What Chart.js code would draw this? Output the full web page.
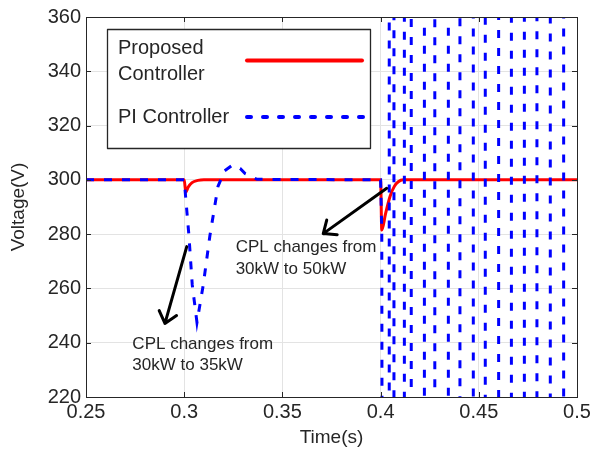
<!DOCTYPE html>
<html>
<head>
<meta charset="utf-8">
<script src="https://cdn.jsdelivr.net/npm/chart.js@4"></script>
<style>
  html, body { margin: 0; padding: 0; background: #fff; }
  #wrap { width: 596px; height: 454px; }
</style>
</head>
<body>
<div id="wrap"><canvas id="graph1" width="596" height="454"></canvas></div>
<script>
// proposed controller (red)
const timeProposed = [0.25, 0.3, 0.3008, 0.302, 0.304, 0.307, 0.31, 0.4, 0.4006, 0.4025, 0.4048, 0.407, 0.409, 0.4116, 0.5]
const voltProposed = [300, 300, 295.5, 297.3, 299, 299.8, 300, 300, 281.5, 287.5, 293.9, 297.6, 299.3, 300, 300]

// PI controller (blue), goes unstable after 0.4 s
const timePI = [0.25, 0.3, 0.3024, 0.3041, 0.3065, 0.3097, 0.3131, 0.3172, 0.3205, 0.3247, 0.3285, 0.331, 0.3371, 0.4,
  0.4006, 0.4009,
  0.4044, 0.4044, 0.4068, 0.4068, 0.4121, 0.4121, 0.4156, 0.4156,
  0.4223, 0.4223, 0.4276, 0.4276, 0.4345, 0.4345, 0.4404, 0.4404,
  0.4472, 0.4472, 0.4533, 0.4533, 0.4601, 0.4601, 0.4666, 0.4666,
  0.4732, 0.4732, 0.4796, 0.4796, 0.4864, 0.4864, 0.4932, 0.4932, 0.5]
const voltPI = [300, 300, 279.5, 261.3, 247.5, 261.3, 279.5, 297.6, 303.3, 305.5, 304.2, 302.3, 300.2, 300,
  281.5, 100,
  100, 520, 520, 100, 100, 520, 520, 100,
  100, 520, 520, 100, 100, 520, 520, 100,
  100, 520, 520, 100, 100, 520, 520, 100,
  100, 520, 520, 100, 100, 520, 520, 100, 100]

const seriesNames = ['Proposed\nController', 'PI Controller']
const noteTexts = [['CPL changes from', '30kW to 35kW'], ['CPL changes from', '30kW to 50kW']]

const txtColor = '#262626'
const fontFam = '"Liberation Sans", Arial, Helvetica, sans-serif'

// arrows and notes, placed in data units
const notes = [
  { text: noteTexts[0], x: 0.2736, y: 237.7, from: [0.3013, 275.4], to: [0.2902, 247.1] },
  { text: noteTexts[1], x: 0.3262, y: 273.3, from: [0.4031, 296.9], to: [0.3708, 280.2] }
]

const decorPlugin = {
  id: 'decor',
  afterDraw(chart) {
    const ctx = chart.ctx
    const a = chart.chartArea
    const xs = chart.scales.x, ys = chart.scales.y
    ctx.save()

    // inward ticks
    ctx.strokeStyle = txtColor
    ctx.lineWidth = 1
    ctx.beginPath()
    xs.ticks.forEach(t => {
      const px = Math.round(xs.getPixelForValue(t.value)) + 0.5
      ctx.moveTo(px, a.bottom); ctx.lineTo(px, a.bottom - 5)
      ctx.moveTo(px, a.top); ctx.lineTo(px, a.top + 5)
    })
    ys.ticks.forEach(t => {
      const py = Math.round(ys.getPixelForValue(t.value)) + 0.5
      ctx.moveTo(a.left, py); ctx.lineTo(a.left + 5, py)
      ctx.moveTo(a.right, py); ctx.lineTo(a.right - 5, py)
    })
    ctx.stroke()

    // axes box
    ctx.strokeRect(Math.round(a.left) + 0.5, Math.round(a.top) + 0.5, Math.round(a.right - a.left), Math.round(a.bottom - a.top))

    // notes + arrows
    ctx.fillStyle = txtColor
    ctx.font = '17px ' + fontFam
    ctx.textBaseline = 'alphabetic'
    ctx.textAlign = 'left'
    notes.forEach(n => {
      const tx = xs.getPixelForValue(n.x), ty = ys.getPixelForValue(n.y)
      n.text.forEach((line, i) => ctx.fillText(line, tx, ty + i * 21.5))

      const x0 = xs.getPixelForValue(n.from[0]), y0 = ys.getPixelForValue(n.from[1])
      const x1 = xs.getPixelForValue(n.to[0]), y1 = ys.getPixelForValue(n.to[1])
      const ang = Math.atan2(y1 - y0, x1 - x0)
      const hl = 14, ha = 0.7
      ctx.strokeStyle = '#000'
      ctx.lineWidth = 3
      ctx.lineCap = 'round'
      ctx.lineJoin = 'round'
      ctx.beginPath()
      ctx.moveTo(x0, y0); ctx.lineTo(x1, y1)
      ctx.moveTo(x1 - hl * Math.cos(ang - ha), y1 - hl * Math.sin(ang - ha))
      ctx.lineTo(x1, y1)
      ctx.lineTo(x1 - hl * Math.cos(ang + ha), y1 - hl * Math.sin(ang + ha))
      ctx.stroke()
    })

    // legend box
    const lx = a.left + 21, ly = a.top + 12, lw = 263, lh = 119
    ctx.fillStyle = '#fff'
    ctx.fillRect(lx, ly, lw, lh)
    ctx.strokeStyle = txtColor
    ctx.lineWidth = 1.3
    ctx.lineCap = 'butt'
    ctx.strokeRect(Math.round(lx) + 0.5, Math.round(ly) + 0.5, lw, lh)

    ctx.fillStyle = txtColor
    ctx.font = '20px ' + fontFam
    const lines0 = seriesNames[0].split('\n')
    ctx.fillText(lines0[0], lx + 11, ly + 25)
    ctx.fillText(lines0[1], lx + 11, ly + 50.5)
    ctx.fillText(seriesNames[1], lx + 11, ly + 94)

    ctx.lineWidth = 4
    ctx.strokeStyle = '#ff0000'
    ctx.lineCap = 'round'
    ctx.beginPath()
    ctx.moveTo(lx + 140, ly + 31.5); ctx.lineTo(lx + 255, ly + 31.5)
    ctx.stroke()

    ctx.strokeStyle = '#0000ff'
    ctx.setLineDash([4, 12])
    ctx.beginPath()
    ctx.moveTo(lx + 140, ly + 88); ctx.lineTo(lx + 258, ly + 88)
    ctx.stroke()
    ctx.restore()
  }
}

const chart = new Chart(
  document.getElementById('graph1'),
  {
    type: 'line',
    data: {
      datasets: [
        {
          label: 'PI Controller',
          data: timePI.map((t, i) => ({ x: t, y: voltPI[i] })),
          borderColor: '#0000ff',
          borderWidth: 3,
          borderDash: [8, 10],
          pointRadius: 0,
          tension: 0,
          clip: 0
        },
        {
          label: 'Proposed Controller',
          data: timeProposed.map((t, i) => ({ x: t, y: voltProposed[i] })),
          borderColor: '#ff0000',
          borderWidth: 3,
          pointRadius: 0,
          cubicInterpolationMode: 'monotone',
          clip: 0
        }
      ]
    },
    options: {
      responsive: false,
      animation: false,
      layout: { padding: { top: 11, right: 19, left: 0, bottom: 0 } },
      plugins: { legend: { display: false }, tooltip: { enabled: false } },
      scales: {
        x: {
          type: 'linear',
          min: 0.25,
          max: 0.5,
          grid: { color: '#e3e3e3', drawTicks: false },
          border: { display: false },
          ticks: {
            stepSize: 0.05,
            padding: 3,
            color: txtColor,
            font: { family: fontFam, size: 20 },
            callback: v => String(Number(v.toFixed(2)))
          },
          title: {
            display: true,
            text: 'Time(s)',
            color: txtColor,
            font: { family: fontFam, size: 19 },
            padding: { top: 0, bottom: 5 }
          },
          afterFit: s => { s.height = 57 }
        },
        y: {
          min: 220,
          max: 360,
          grid: { color: '#e3e3e3', drawTicks: false },
          border: { display: false },
          ticks: {
            stepSize: 20,
            padding: 5,
            color: txtColor,
            font: { family: fontFam, size: 20 }
          },
          title: {
            display: true,
            text: 'Voltage(V)',
            color: txtColor,
            font: { family: fontFam, size: 19 },
            padding: { top: 7, bottom: 0 }
          },
          afterFit: s => { s.width = 86 }
        }
      }
    },
    plugins: [decorPlugin]
  }
)
</script>
</body>
</html>
